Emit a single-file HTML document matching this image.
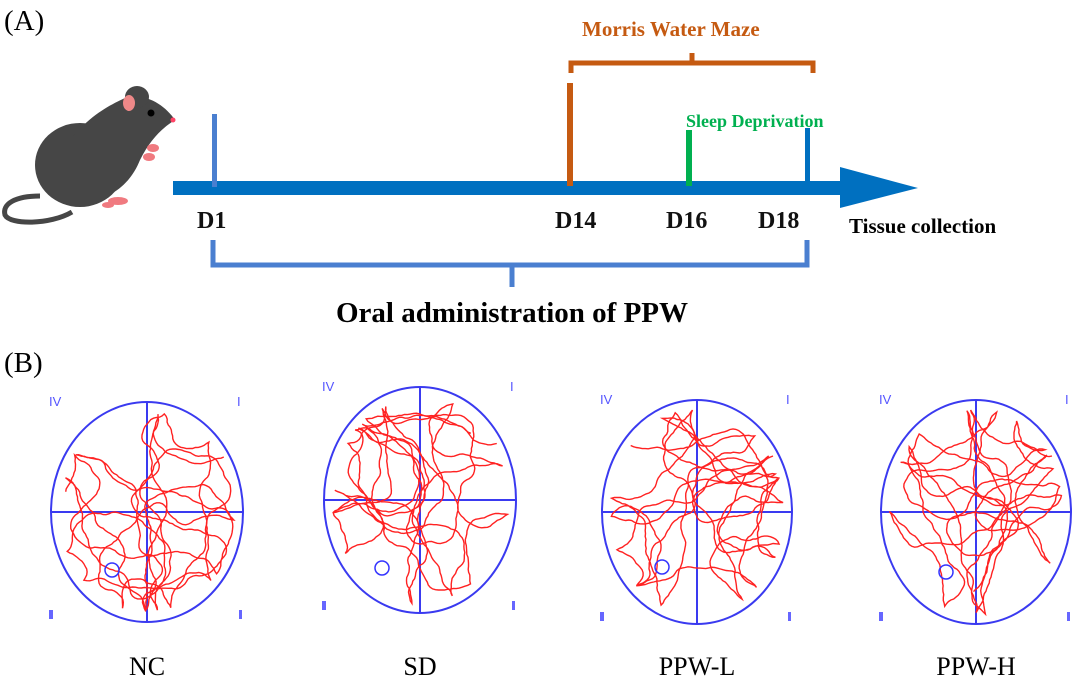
<!DOCTYPE html>
<html><head><meta charset="utf-8"><style>
html,body{margin:0;padding:0;background:#fff;width:1080px;height:679px;overflow:hidden}
svg{display:block}
</style></head><body>
<svg id="s" width="1080" height="679" viewBox="0 0 1080 679" xmlns="http://www.w3.org/2000/svg" font-family="Liberation Serif, serif">
<text x="4" y="30" font-size="29">(A)</text>
<text x="4" y="372" font-size="29">(B)</text>
<!-- mouse -->
<g fill="#464646">
<path d="M40 196 C15 196 2 204 5 215 C10 225 50 225 72 212" fill="none" stroke="#464646" stroke-width="5"/>
<ellipse cx="80" cy="165" rx="45" ry="42"/>
<path d="M70 140 C90 115 110 105 125 98 C145 92 165 105 175 120 C162 128 150 140 140 160 C130 185 110 200 85 200 Z"/>
<ellipse cx="137" cy="97" rx="12" ry="11"/>
</g>
<ellipse cx="129" cy="103" rx="6" ry="8" fill="#e88"/>
<circle cx="151" cy="113" r="3.5" fill="#000"/>
<circle cx="173" cy="120" r="2.5" fill="#f46"/>
<g fill="#f07a80"><ellipse cx="153" cy="148" rx="6" ry="4"/><ellipse cx="149" cy="157" rx="6" ry="4"/><ellipse cx="118" cy="201" rx="10" ry="4"/><ellipse cx="108" cy="205" rx="6" ry="3"/></g>
<!-- timeline -->
<rect x="173" y="181" width="670" height="14" fill="#0070c0"/>
<polygon points="840,167 918,188 840,208" fill="#0070c0"/>
<rect x="212" y="114" width="5" height="73" fill="#4a7fd0"/>
<rect x="567" y="83" width="6" height="103" fill="#c55a11"/>
<rect x="686" y="130" width="6" height="56" fill="#00b050"/>
<rect x="805" y="128" width="5" height="55" fill="#0070c0"/>
<path d="M571 73 L571 63 L813 63 L813 73 M692 63 L692 53" fill="none" stroke="#c55a11" stroke-width="5"/>
<text x="582" y="36" font-size="21" font-weight="bold" fill="#c55a11">Morris Water Maze</text>
<text x="686" y="127" font-size="18" font-weight="bold" fill="#00b050">Sleep Deprivation</text>
<g font-size="24" font-weight="bold" fill="#111">
<text x="197" y="228">D1</text><text x="555" y="228">D14</text><text x="666" y="228">D16</text><text x="758" y="228">D18</text>
</g>
<text x="849" y="233" font-size="21" font-weight="bold">Tissue collection</text>
<path d="M213 240 L213 265 L807 265 L807 240 M512 265 L512 287" fill="none" stroke="#4a7fd0" stroke-width="5"/>
<text x="512" y="322" font-size="29" font-weight="bold" text-anchor="middle">Oral administration of PPW</text>
<g id="mazes"></g>
<g font-size="26" text-anchor="middle">
<text x="147" y="675">NC</text><text x="420" y="675">SD</text><text x="697" y="675">PPW-L</text><text x="976" y="675">PPW-H</text>
</g>
</svg>
<script>
var M=[[147,512,96,110],[420,500,96,113],[697,512,95,112],[976,512,95,112]];
var seed=7;function r(){seed=(seed*16807)%2147483647;return seed/2147483647;}
var h='';
M.forEach(function(m,k){var cx=m[0],cy=m[1],rx=m[2],ry=m[3];
h+='<ellipse cx="'+cx+'" cy="'+cy+'" rx="'+rx+'" ry="'+ry+'" fill="none" stroke="#3a3af0" stroke-width="2"/>';
h+='<line x1="'+cx+'" y1="'+(cy-ry)+'" x2="'+cx+'" y2="'+(cy+ry)+'" stroke="#3a3af0" stroke-width="2"/>';
h+='<line x1="'+(cx-rx)+'" y1="'+cy+'" x2="'+(cx+rx)+'" y2="'+cy+'" stroke="#3a3af0" stroke-width="2"/>';
h+='<text x="'+(cx-rx-2)+'" y="'+(cy-ry+4)+'" font-size="13" fill="#55f" font-family="Liberation Sans">IV</text>';
h+='<text x="'+(cx+rx-6)+'" y="'+(cy-ry+4)+'" font-size="13" fill="#55f" font-family="Liberation Sans">I</text>';
h+='<rect x="'+(cx-rx-2)+'" y="'+(cy+ry-12)+'" width="4" height="9" fill="#66f"/>';
h+='<rect x="'+(cx+rx-4)+'" y="'+(cy+ry-12)+'" width="3" height="9" fill="#66f"/>';
var x=cx+rx*0.8,y=cy-ry*0.5,a=Math.PI,p='M'+x.toFixed(1)+' '+y.toFixed(1);
for(var i=0;i<1100;i++){a+=(r()-0.5)*0.8;var nx=x+Math.cos(a)*3,ny=y+Math.sin(a)*3;
var d=((nx-cx)/(rx*0.92))**2+((ny-cy)/(ry*0.92))**2;
if(d>1){a=Math.atan2(cy-y,cx-x)+(r()-0.5)*1.5;nx=x+Math.cos(a)*3;ny=y+Math.sin(a)*3;}
x=nx;y=ny;p+=' L'+x.toFixed(1)+' '+y.toFixed(1);}
h+='<path d="'+p+'" fill="none" stroke="#f22" stroke-width="1.4"/>';
var pc=[[-35,58],[-38,68],[-35,55],[-30,60]][k];
h+='<circle cx="'+(cx+pc[0])+'" cy="'+(cy+pc[1])+'" r="7" fill="none" stroke="#33f" stroke-width="1.5"/>';
});
document.getElementById('mazes').innerHTML=h;
</script>
</body></html>
